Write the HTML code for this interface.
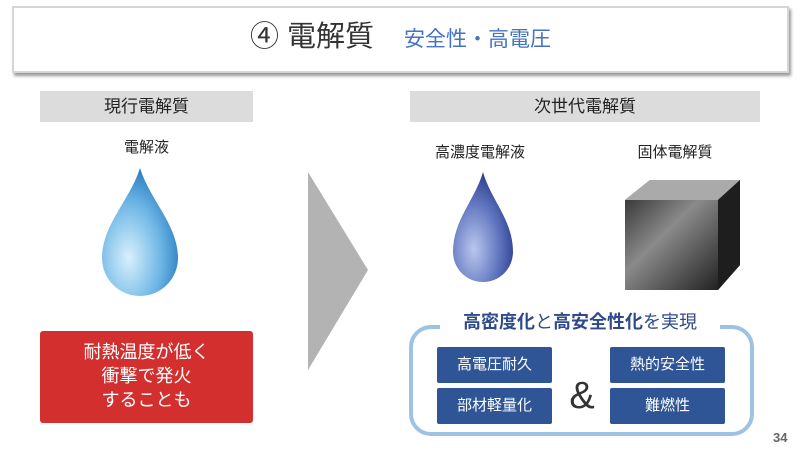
<!DOCTYPE html>
<html><head><meta charset="utf-8"><style>
body{margin:0;width:800px;height:450px;background:#fff;position:relative;overflow:hidden;font-family:"Liberation Sans","Noto Sans CJK JP",sans-serif;}
.a{position:absolute}
.c{text-align:center}
.btn{position:absolute;background:#2f5597;color:#fff;font-size:15px;text-align:center;line-height:36px;width:115px;height:36px;border-radius:2px}
</style></head><body>
<div class="a" style="left:12px;top:6px;width:773px;height:63px;background:#fff;border:2px solid #d6d6d6;box-shadow:2px 3px 3px #999"></div>
<div class="a c" style="left:12px;top:19px;width:777px;font-size:29px;color:#333;line-height:36px">④ 電解質<span style="font-size:21px;color:#4472c4;margin-left:30px">安全性・高電圧</span></div>

<div class="a c" style="left:40px;top:91px;width:213px;height:31px;background:#dcdcdc;font-size:17px;line-height:31px;color:#222">現行電解質</div>
<div class="a c" style="left:410px;top:91px;width:350px;height:31px;background:#dcdcdc;font-size:17px;line-height:31px;color:#222">次世代電解質</div>

<div class="a c" style="left:40px;top:136px;width:213px;font-size:15px;color:#222">電解液</div>
<div class="a c" style="left:405px;top:141px;width:150px;font-size:15px;color:#222">高濃度電解液</div>
<div class="a c" style="left:610px;top:141px;width:130px;font-size:15px;color:#222">固体電解質</div>

<svg class="a" style="left:0;top:0" width="800" height="450">
<defs>
<radialGradient id="d1" cx="0.35" cy="0.7" r="0.7"><stop offset="0" stop-color="#d8f0fb"/><stop offset="0.6" stop-color="#6fb7e6"/><stop offset="1" stop-color="#2e7fc0"/></radialGradient>
<radialGradient id="d2" cx="0.35" cy="0.7" r="0.7"><stop offset="0" stop-color="#b9c7ec"/><stop offset="0.6" stop-color="#6176c0"/><stop offset="1" stop-color="#2e3f8e"/></radialGradient>
<linearGradient id="cf" x1="0" y1="0" x2="1" y2="1"><stop offset="0" stop-color="#3a3a3a"/><stop offset="0.4" stop-color="#8a8a8a"/><stop offset="1" stop-color="#222"/></linearGradient>
</defs>
<path d="M140 168 C150 200 178 225 178 258 A38 38 0 0 1 102 258 C102 225 130 200 140 168Z" fill="url(#d1)"/>
<path d="M483 172 C491 200 513 220 513 252 A30 30 0 0 1 453 252 C453 220 475 200 483 172Z" fill="url(#d2)"/>
<polygon points="625,200 650,180 740,180 740,265 718,290 625,290" fill="#333"/>
<polygon points="625,200 650,180 740,180 718,200" fill="#aaa"/>
<polygon points="625,200 718,200 718,290 625,290" fill="url(#cf)"/>
<polygon points="718,200 740,180 740,265 718,290" fill="#1e1e1e"/>
<polygon points="308,172 368,270 308,370" fill="#b3b3b3"/>
<rect x="411" y="327" width="341" height="107" rx="20" fill="none" stroke="#9cc3e4" stroke-width="4"/>
<rect x="440" y="310" width="280" height="24" fill="#fff"/>
</svg>

<div class="a c" style="left:40px;top:331px;width:213px;height:92px;background:#d32f2f;border-radius:3px;color:#fff;font-size:18px;line-height:24px;padding-top:9px;box-sizing:border-box">耐熱温度が低く<br>衝撃で発火<br>することも</div>

<div class="a c" style="left:400px;top:310px;width:360px;font-size:18px;color:#2e4a8a;line-height:24px"><b>高密度化</b>と<b>高安全性化</b>を実現</div>
<div class="btn" style="left:437px;top:347px">高電圧耐久</div>
<div class="btn" style="left:437px;top:388px">部材軽量化</div>
<div class="btn" style="left:610px;top:347px">熱的安全性</div>
<div class="btn" style="left:610px;top:388px">難燃性</div>
<div class="a c" style="left:560px;top:374px;width:44px;font-size:38px;color:#333;line-height:44px">&amp;</div>
<div class="a" style="left:773px;top:430px;font-size:13px;color:#666;font-weight:bold">34</div>
</body></html>
